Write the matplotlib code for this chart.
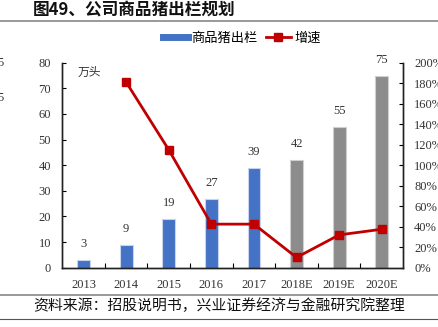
import matplotlib
matplotlib.use("Agg")
import matplotlib.pyplot as plt
from matplotlib.lines import Line2D

plt.rcParams['font.family'] = ['Noto Sans CJK SC', 'DejaVu Sans']

years = ['2013', '2014', '2015', '2016', '2017', '2018E', '2019E', '2020E']
output = [3, 9, 19, 27, 39, 42, 55, 75]
growth = [None, 181, 115, 42.5, 42.5, 10, 32, 37.5]
bar_colors = ['#4472C4'] * 5 + ['#8C8C8C'] * 3
edge_colors = ['#C9D4EC'] * 5 + ['#D0D0D0'] * 3

W, H = 438, 327
fig = plt.figure(figsize=(W / 100, H / 100), dpi=100)
ax = fig.add_axes([62.3 / W, 1 - 267.7 / H, (403 - 62.3) / W, (267.7 - 62.7) / H])
ax2 = ax.twinx()

x = list(range(len(years)))
ax.bar(x, output, width=0.30, color=bar_colors, edgecolor=edge_colors, linewidth=0.8, zorder=2)
for xi, v in zip(x, output):
    ax.annotate(str(v), (xi, v), xytext=(0, 7), textcoords='offset points',
                ha='center', va='bottom', fontsize=9, family='Liberation Serif', color='#333333')

gx = [xi for xi, g in zip(x, growth) if g is not None]
gy = [g for g in growth if g is not None]
ax2.plot(gx, gy, color='#C00000', lw=2, marker='s', markersize=6, zorder=3)

ax.set_xlim(-0.5, len(years) - 0.5)
ax.set_ylim(0, 80)
ax.set_yticks(range(0, 81, 10))
ax2.set_ylim(0, 200)
ax2.set_yticks(range(0, 201, 20))
ax2.set_yticklabels([f'{v}%' for v in range(0, 201, 20)])

ax.set_xticks(x)
ax.set_xticklabels(years)
ax.set_xticks([i + 0.5 for i in x[:-1]], minor=True)
ax.tick_params(axis='x', which='major', length=0, pad=8)
ax.tick_params(axis='x', which='minor', direction='in', length=3.5, width=0.8)
ax.tick_params(axis='y', direction='in', length=3, width=0.8, pad=8)
ax2.tick_params(axis='y', direction='in', length=3, width=0.8, pad=8)

for a in (ax, ax2):
    a.spines['top'].set_visible(False)
    for s in ('left', 'right', 'bottom'):
        a.spines[s].set_linewidth(1.0)
        a.spines[s].set_color('#222222')
for lab in ax.get_xticklabels() + ax.get_yticklabels() + ax2.get_yticklabels():
    lab.set_family('Liberation Serif')
    lab.set_fontsize(9)
    lab.set_color('#333333')

ax.text(0.045, 0.985, '万头', transform=ax.transAxes, ha='left', va='top', fontsize=8.5, color='#333333')

# title
fig.text(33 / W, 1 - 10.5 / H, '图49、公司商品猪出栏规划', ha='left', va='center',
         fontsize=12, fontweight='bold', color='#111111')
fig.add_artist(Line2D([0, 1], [1 - 20.5 / H, 1 - 20.5 / H], color='#888888', lw=1.2))

# legend
handles = [Line2D([], [], color='#4472C4', lw=5),
           Line2D([], [], color='#C00000', lw=2, marker='s', markersize=6)]
fig.legend(handles, ['商品猪出栏', '增速'], loc='center', bbox_to_anchor=(242 / W, 1 - 38 / H),
           ncol=2, frameon=False, fontsize=9.5, handlelength=1.9, columnspacing=0.6,
           handletextpad=0.3)

# footer
fig.add_artist(Line2D([0, 1], [1 - 295 / H, 1 - 295 / H], color='#888888', lw=1.2))
fig.add_artist(Line2D([0, 1], [1 - 318.5 / H, 1 - 318.5 / H], color='#555555', lw=0.8))
fig.text(33 / W, 1 - 305.5 / H, '资料来源：招股说明书，兴业证券经济与金融研究院整理', ha='left', va='center',
         fontsize=10.7, color='#111111')

# clipped remnants at left edge
for yy in (62.7, 97.7):
    fig.text(4 / W, 1 - yy / H, '5', ha='right', va='center', fontsize=9,
             family='Liberation Serif', color='#333333')

fig.savefig('out.png', dpi=100)
